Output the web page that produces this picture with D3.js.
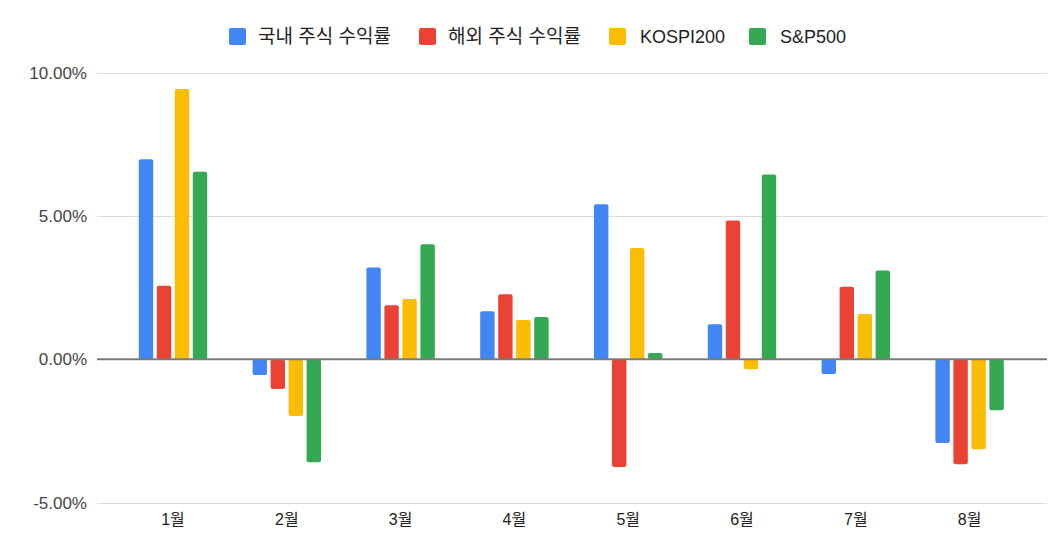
<!DOCTYPE html>
<html><head><meta charset="utf-8">
<script src="https://cdn.jsdelivr.net/npm/d3@7"></script>
<style>
body{margin:0;background:#fff;}
svg{display:block;font-family:"Liberation Sans",Arial,"Noto Sans CJK KR",sans-serif;}
</style></head>
<body><svg id="c" width="1064" height="543"></svg>
<script>
const months = ["1월","2월","3월","4월","5월","6월","7월","8월"];
const seriesNames = ["국내 주식 수익률","해외 주식 수익률","KOSPI200","S&P500"];
const seriesColors = ["#4285F4","#EA4335","#FBBC04","#34A853"];
const domestic = [6.98, -0.55, 3.20, 1.68, 5.41, 1.22, -0.51, -2.92];
const overseas = [2.57, -1.04, 1.89, 2.27, -3.76, 4.84, 2.53, -3.66];
const kospi200 = [9.43, -1.98, 2.10, 1.37, 3.88, -0.35, 1.58, -3.14];
const sp500   = [6.54, -3.59, 4.01, 1.48, 0.22, 6.45, 3.10, -1.78];
const yTicks = [-5, 0, 5, 10];

const allSeries = [domestic, overseas, kospi200, sp500];
const svg = d3.select("#c");

const x = d3.scaleBand().domain(months).range([116.1, 1026.5]).padding(0);
const xi = d3.scaleBand().domain(d3.range(4)).range([-36, 36]).paddingInner(0.2).paddingOuter(0.1);
const y = d3.scaleLinear().domain([-5, 10]).range([502.6, 72.7]);

// gridlines
svg.append("g").selectAll("line").data(yTicks.filter(d => d !== 0)).join("line")
  .attr("x1", 97).attr("x2", 1047)
  .attr("y1", d => Math.round(y(d)) + 0.5).attr("y2", d => Math.round(y(d)) + 0.5)
  .attr("stroke", "#dcdcdc").attr("stroke-width", 1);

// y labels
svg.append("g").selectAll("text").data(yTicks).join("text")
  .attr("x", 87).attr("y", d => y(d)).attr("dy", "0.35em")
  .attr("text-anchor", "end").attr("font-size", 17).attr("fill", "#444")
  .text(d => d.toFixed(2) + "%");

// bars
const data = [];
months.forEach((m, i) => allSeries.forEach((s, j) => data.push({m, j, v: s[i]})));
svg.append("g").selectAll("rect").data(data).join("rect")
  .attr("x", d => x(d.m) + x.bandwidth() / 2 + xi(d.j))
  .attr("width", xi.bandwidth())
  .attr("y", d => y(Math.max(0, d.v)))
  .attr("height", d => Math.abs(y(d.v) - y(0)))
  .attr("rx", 2).attr("ry", 2)
  .attr("fill", d => seriesColors[d.j]);

// zero line
svg.append("line").attr("x1", 97).attr("x2", 1047)
  .attr("y1", y(0)).attr("y2", y(0))
  .attr("stroke", "#7a7a7a").attr("stroke-width", 2);

// x labels
svg.append("g").selectAll("text").data(months).join("text")
  .attr("x", d => x(d) + x.bandwidth() / 2).attr("y", 519).attr("dy", "0.35em")
  .attr("text-anchor", "middle").attr("font-size", 16).attr("fill", "#222")
  .text(d => d);

// legend
const legendX = [229, 419, 609, 749];
const legendFont = [19, 19, 18, 18];
const lg = svg.append("g").selectAll("g").data(seriesNames).join("g")
  .attr("transform", (d, i) => `translate(${legendX[i]},36.5)`);
lg.append("rect").attr("x", 0).attr("y", -8.5).attr("width", 17).attr("height", 17)
  .attr("rx", 2).attr("fill", (d, i) => seriesColors[i]);
lg.append("text").attr("x", (d, i) => i < 2 ? 29 : 31).attr("y", 0).attr("dy", "0.35em")
  .attr("font-size", (d, i) => legendFont[i]).attr("fill", "#222").text(d => d);
</script></body></html>
